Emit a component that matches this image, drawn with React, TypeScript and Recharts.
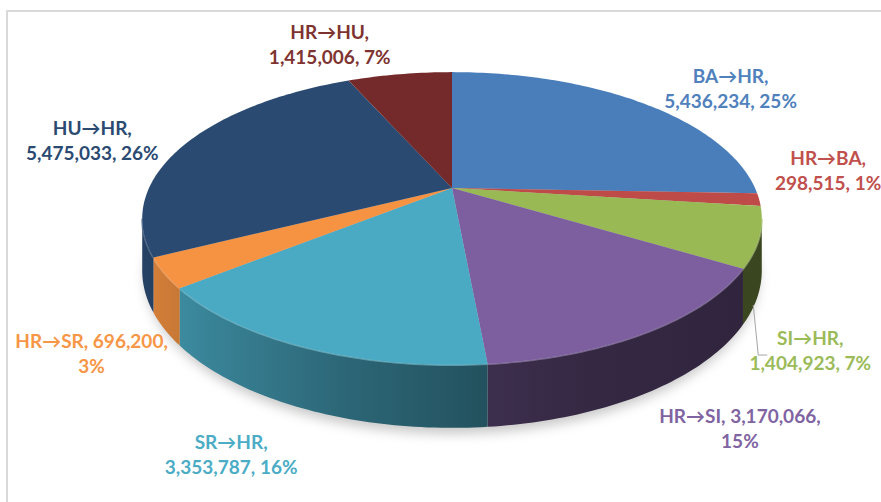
import React from 'react';
import { PieChart, Pie, Cell } from 'recharts';

const names = ['BA→HR', 'HR→BA', 'SI→HR', 'HR→SI', 'SR→HR', 'HR→SR', 'HU→HR', 'HR→HU'];
const values = [5436234, 298515, 1404923, 3170066, 3353787, 696200, 5475033, 1415006];
const percents = ['25%', '1%', '7%', '15%', '16%', '3%', '26%', '7%'];
const colors = ['#4A7EBB', '#BE4B48', '#98B954', '#7D5FA0', '#4AAAC4', '#F59342', '#2A4A72', '#74292A'];
const labelColors = ['#4F81BD', '#C0504D', '#9BBB59', '#8064A2', '#4BACC6', '#F79646', '#2A4A72', '#7F3330'];
// how many label parts go on the first line (name, value, percent)
const firstLineParts = [1, 1, 1, 2, 1, 2, 1, 1];
// label block centre, offset from the slice middle on the rim
const labelOffsets = [[88, -15], [69, -29], [51, 113], [92, 96], [-74, 107], [-73, 80], [-93, -4], [-70, -30]];

const data = names.map((name, i) => ({ name, value: values[i] }));

// fake 3d: tilt + a bit of perspective, wall height relative to radius
const TILT = 0.462;
const PERSP = 0.208;
const DEPTH = 0.165;
const WALL_FROM = -168;
const WALL_TO = -12;

const project = (cx: number, cy: number, r: number, deg: number, drop = 0) => {
  const a = (deg * Math.PI) / 180;
  const w = 1 + PERSP * Math.sin(a);
  return [cx + (r * Math.cos(a)) / w, cy - (r * TILT * Math.sin(a)) / w + drop / w];
};

const arc = (cx: number, cy: number, r: number, a0: number, a1: number, drop = 0) => {
  const n = Math.max(2, Math.ceil(Math.abs(a1 - a0)));
  const pts: number[][] = [];
  for (let i = 0; i <= n; i++) pts.push(project(cx, cy, r, a0 + ((a1 - a0) * i) / n, drop));
  return pts;
};

const toPath = (pts: number[][]) => pts.map(p => `${p[0].toFixed(2)},${p[1].toFixed(2)}`).join('L');

const shade = (hex: string, f: number) => {
  const n = parseInt(hex.slice(1), 16);
  const c = [(n >> 16) & 255, (n >> 8) & 255, n & 255].map(v => Math.round(v * f));
  return `rgb(${c[0]},${c[1]},${c[2]})`;
};

const tint = (hex: string, t: number) => {
  const n = parseInt(hex.slice(1), 16);
  const c = [(n >> 16) & 255, (n >> 8) & 255, n & 255].map(v => Math.round(v + (255 - v) * t));
  return `rgb(${c[0]},${c[1]},${c[2]})`;
};

const wallStops = [[0, 0.88], [0.09, 0.78], [0.33, 0.6], [0.54, 0.49], [0.73, 0.42], [1, 0.38]];

function Slice(props: any) {
  const { cx, cy, outerRadius: r, startAngle, endAngle, fill } = props;
  const idx = names.indexOf(props.name ?? props.payload?.name);
  const lo = Math.min(startAngle, endAngle);
  const hi = Math.max(startAngle, endAngle);
  const depth = r * DEPTH;

  const topPath = `M${cx},${cy}L${toPath(arc(cx, cy, r, startAngle, endAngle))}Z`;

  const wLo = Math.max(lo, WALL_FROM);
  const wHi = Math.min(hi, WALL_TO);
  const hasWall = wHi > wLo;
  const upper = hasWall ? arc(cx, cy, r, wLo, wHi) : [];
  const lower = hasWall ? arc(cx, cy, r, wHi, wLo, depth) : [];
  const gid = `wall-${idx}`;

  return (
    <g>
      {idx === 0 && (
        <g>
          <defs>
            <filter id="pie-shadow" x="-20%" y="-20%" width="140%" height="140%">
              <feGaussianBlur stdDeviation="6" />
            </filter>
          </defs>
          <path
            d={`M${toPath(arc(cx, cy, r * 0.99, 0, 360, depth + 6))}Z`}
            fill="#000"
            fillOpacity={0.22}
            filter="url(#pie-shadow)"
          />
        </g>
      )}
      <defs>
        <linearGradient id={gid} gradientUnits="userSpaceOnUse" x1={cx - r * 1.021} x2={cx + r * 1.021} y1={0} y2={0}>
          {wallStops.map(([o, f]) => (
            <stop key={o} offset={o} stopColor={shade(fill, f)} />
          ))}
        </linearGradient>
      </defs>
      {hasWall && <path d={`M${toPath(upper)}L${toPath(lower)}Z`} fill={`url(#${gid})`} />}
      {hasWall && (
        <path d={`M${toPath(upper)}`} fill="none" stroke={tint(fill, 0.3)} strokeWidth={2.5} strokeOpacity={0.6} />
      )}
      <path d={topPath} fill={fill} />
    </g>
  );
}

const labelLines = (i: number) => {
  const parts = [`${names[i]},`, `${values[i].toLocaleString('en-US')},`, percents[i]];
  return [parts.slice(0, firstLineParts[i]).join(' '), parts.slice(firstLineParts[i]).join(' ')];
};

function renderLabel(props: any) {
  const { cx, cy, outerRadius: r, midAngle, index } = props;
  const [mx, my] = project(cx, cy, r, midAngle);
  const [dx, dy] = labelOffsets[index];
  const x = mx + dx;
  const y = my + dy;
  const [l1, l2] = labelLines(index);
  return (
    <g key={`lbl-${index}`}>
      {index === 2 && (
        <polyline
          points={`${mx - 6},${my + 68} ${mx - 1},${y + 5} ${mx + 8},${y + 5}`}
          fill="none"
          stroke="#A6A6A6"
          strokeWidth={1}
        />
      )}
      <text textAnchor="middle" fill={labelColors[index]} fontFamily="Lato" fontWeight={700} fontSize={19}>
        <tspan x={x} y={y - 12.5} dominantBaseline="central">{l1}</tspan>
        <tspan x={x} y={y + 12.5} dominantBaseline="central">{l2}</tspan>
      </text>
    </g>
  );
}

export default function App() {
  return (
    <div style={{ position: 'absolute', left: 0, top: 0, width: 881, height: 502, overflow: 'hidden', background: '#fff' }}>
      <div
        style={{
          position: 'absolute',
          left: 6,
          top: 10,
          width: 920,
          height: 560,
          border: '2px solid #D9D9D9',
        }}
      />
      <div style={{ position: 'absolute', left: 0, top: 0 }}>
        <PieChart width={881} height={502} margin={{ top: 0, right: 0, bottom: 0, left: 0 }}>
          <Pie
            data={data}
            dataKey="value"
            nameKey="name"
            cx={452}
            cy={188}
            outerRadius={303}
            startAngle={90}
            endAngle={-270}
            stroke="none"
            isAnimationActive={false}
            shape={Slice}
            activeShape={Slice}
            label={renderLabel}
            labelLine={false}
          >
            {data.map((d, i) => (
              <Cell key={d.name} fill={colors[i]} />
            ))}
          </Pie>
        </PieChart>
      </div>
    </div>
  );
}
